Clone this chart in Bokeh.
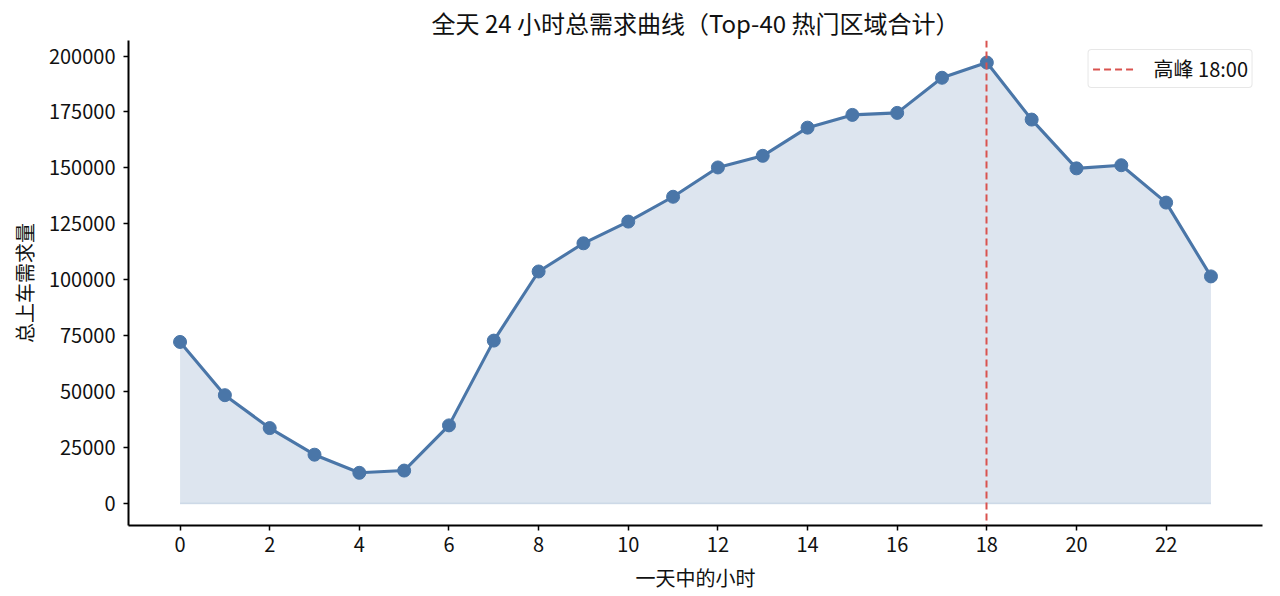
import numpy as np
from bokeh.plotting import figure
from bokeh.models import FixedTicker, BasicTickFormatter, Range1d, Legend
from bokeh.embed import file_html
from bokeh.resources import INLINE

hours = list(range(24))
demand = [72200, 48400, 33700, 21800, 13700, 14700, 34900, 72800, 103700, 116300,
          126000, 137100, 150200, 155400, 168000, 173700, 174600, 190300, 197100,
          171600, 149800, 151200, 134500, 101500]
x_ticks = list(range(0, 24, 2))
y_ticks = list(range(0, 200001, 25000))

title_text = "全天 24 小时总需求曲线（Top-40 热门区域合计）"
x_label = "一天中的小时"
y_label = "总上车需求量"

peak_idx = int(np.argmax(demand))
peak_hour = hours[peak_idx]
peak_label = f"高峰 {peak_hour}:00"

FONT = "Noto Sans CJK SC"
LINE_C = "#4a76a8"
RED = "#d9534f"

ymax = max(demand)
pad_x = 0.05 * (hours[-1] - hours[0])
pad_y = 0.05 * ymax

p = figure(width=1280, height=596, output_backend="svg", toolbar_location=None,
           x_range=Range1d(hours[0] - pad_x, hours[-1] + pad_x),
           y_range=Range1d(-pad_y, ymax + pad_y),
           min_border_left=128, min_border_right=18, min_border_top=40, min_border_bottom=71)

p.title.text = title_text
p.title.align = "center"
p.title.text_font = FONT
p.title.text_font_size = "24px"
p.title.text_font_style = "normal"
p.title.text_color = "#111111"
p.title.standoff = 1

p.outline_line_color = None
p.xgrid.visible = False
p.ygrid.visible = False
p.background_fill_color = "white"

p.varea(x=hours, y1=[0] * len(hours), y2=demand, fill_color=LINE_C, fill_alpha=0.19)
p.line(x=hours, y=[0] * len(hours), line_color=LINE_C, line_alpha=0.2, line_width=1.5)
p.line(x=hours, y=demand, line_color=LINE_C, line_width=3.1)
p.scatter(x=hours, y=demand, size=13, fill_color=LINE_C, line_color=LINE_C)

r_peak = p.vspan(x=[peak_hour], line_color=RED, line_width=2, line_dash="7 4")

legend = Legend(items=[(peak_label, [r_peak])], location="top_right")
legend.label_text_font = FONT
legend.label_text_font_size = "20px"
legend.label_text_color = "#111111"
legend.border_line_color = "#d0d0d0"
legend.border_line_width = 1.2
legend.glyph_width = 42
legend.glyph_height = 16
legend.label_height = 16
legend.label_standoff = 19
legend.padding = 4
legend.margin = 9
legend.spacing = 0
if "border_radius" in Legend.properties():
    legend.border_radius = 4
p.add_layout(legend)

for ax in (p.xaxis[0], p.yaxis[0]):
    ax.axis_line_width = 2
    ax.axis_line_color = "black"
    ax.major_tick_line_width = 1.5
    ax.major_tick_out = 5
    ax.major_tick_in = 0
    ax.minor_tick_line_color = None
    ax.major_label_text_font = FONT
    ax.major_label_text_font_size = "20px"
    ax.major_label_text_color = "#111111"
    ax.axis_label_text_font = FONT
    ax.axis_label_text_font_size = "20px"
    ax.axis_label_text_font_style = "normal"
    ax.axis_label_text_color = "#111111"

p.xaxis.ticker = FixedTicker(ticks=x_ticks)
p.yaxis.ticker = FixedTicker(ticks=y_ticks)
p.yaxis.formatter = BasicTickFormatter(use_scientific=False)
p.xaxis.axis_label = x_label
p.yaxis.axis_label = y_label
p.xaxis.major_label_standoff = 6
p.yaxis.major_label_standoff = 8
p.xaxis.axis_label_standoff = 8
p.yaxis.axis_label_standoff = 7

open("out.html", "w").write(file_html(p, INLINE))
